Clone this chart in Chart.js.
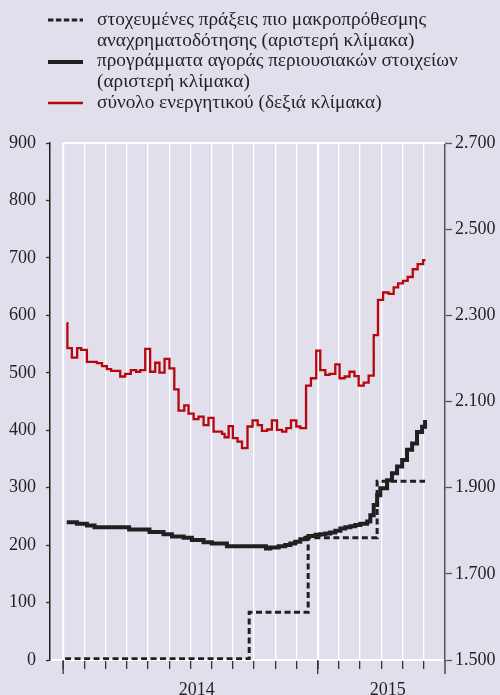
<!DOCTYPE html>
<html>
<head>
<meta charset="utf-8">
<script src="https://cdn.jsdelivr.net/npm/chart.js@4.4.0/dist/chart.umd.min.js"></script>
<style>
  html, body { margin:0; padding:0; background:#e2dfec; }
  #wrap { position:relative; width:500px; height:695px; }
  #legend { position:absolute; left:0; top:0; width:500px; height:120px; }
  #legendText {
    position:absolute; left:97px; top:9px;
    font-family:"Liberation Serif", serif; font-size:19.3px; line-height:20.7px; color:#231f20;
    white-space:nowrap;
  }
  #chart { position:absolute; left:0; top:0; }
</style>
</head>
<body>
<div id="wrap">
  <canvas id="chart" width="500" height="695"></canvas>
  <svg id="legend" width="500" height="120">
    <line x1="48" y1="20" x2="83" y2="20" stroke="#231f20" stroke-width="3" stroke-dasharray="5.5,2.4"/>
    <line x1="48" y1="62" x2="83" y2="62" stroke="#231f20" stroke-width="4"/>
    <line x1="48" y1="103" x2="83" y2="103" stroke="#b5070d" stroke-width="2.5"/>
  </svg>
  <div id="legendText">
    στοχευμένες πράξεις πιο μακροπρόθεσμης<br>
    αναχρηματοδότησης (αριστερή κλίμακα)<br>
    προγράμματα αγοράς περιουσιακών στοιχείων<br>
    (αριστερή κλίμακα)<br>
    σύνολο ενεργητικού (δεξιά κλίμακα)
  </div>
</div>
<script>
// x values are months counted from 1 January 2014 (0 = Jan 2014, 12 = Jan 2015)
const tltroX = [0.09, 8.77, 11.55, 14.8, 17.06];
const tltroY = [2, 83, 213, 311, 311];

const appX = [0.17, 0.65, 1.12, 1.48, 3.11, 4.07, 4.73, 5.13, 5.68, 6.07, 6.62, 7.01, 7.72,
  9.56, 9.76, 10.16, 10.47, 10.71, 10.94, 11.18, 11.42, 11.56, 11.89, 12.12, 12.36, 12.59,
  12.83, 13.07, 13.3, 13.54, 13.77, 14.01, 14.33, 14.48, 14.64, 14.8, 14.95, 15.27, 15.5,
  15.74, 15.98, 16.21, 16.45, 16.68, 16.92, 17.06];
const appY = [240, 237, 234, 231, 227, 223, 219, 215, 213, 209, 205, 203, 198,
  194, 196, 198, 200, 203, 206, 210, 213, 216, 218, 219, 220, 222,
  225, 229, 231, 233, 235, 237, 241, 252, 270, 287, 299, 313, 325,
  337, 348, 366, 377, 397, 406, 418];

const assetsX = [0.17, 0.2, 0.41, 0.66, 0.85, 1.12, 1.59, 1.83, 2.06, 2.26, 2.69, 2.92, 3.19,
  3.44, 3.63, 3.87, 4.1, 4.34, 4.54, 4.78, 5.01, 5.24, 5.44, 5.71, 5.91, 6.15, 6.38, 6.62,
  6.85, 7.09, 7.49, 7.61, 7.8, 8.0, 8.22, 8.43, 8.69, 8.93, 9.17, 9.37, 9.61, 9.84, 10.08,
  10.32, 10.52, 10.74, 10.99, 11.18, 11.45, 11.68, 11.93, 12.12, 12.36, 12.56, 12.83, 13.03,
  13.27, 13.5, 13.73, 13.93, 14.17, 14.4, 14.64, 14.84, 15.08, 15.34, 15.58, 15.79, 16.02,
  16.24, 16.48, 16.71, 16.97, 17.08];
const assetsY = [2282, 2224, 2202, 2224, 2220, 2192, 2189, 2182, 2175, 2171, 2158, 2164, 2173,
  2169, 2173, 2222, 2169, 2190, 2167, 2199, 2177, 2128, 2079, 2091, 2072, 2059, 2065, 2045,
  2062, 2030, 2025, 2017, 2043, 2015, 2007, 1992, 2042, 2056, 2045, 2032, 2035, 2056, 2034,
  2030, 2038, 2056, 2042, 2038, 2137, 2154, 2218, 2173, 2162, 2164, 2186, 2154,
  2158, 2169, 2159, 2137, 2144, 2160, 2254, 2336, 2353, 2350, 2365, 2374, 2380,
  2389, 2407, 2419, 2428, 2428];

const monthTicks = [0, 1, 2, 3, 4, 5, 6, 7, 8, 9, 10, 11, 12, 13, 14, 15, 16, 17];
const yearLabels = ['2014', '2015'];
const yearLabelPos = [6.3, 15.3];
const xMin = -0.62, xMax = 18;

const toPoints = (xs, ys) => xs.map((x, i) => ({ x, y: ys[i] }));
const fmtThousands = v => (v / 1000).toFixed(3);

Chart.defaults.font.family = '"Liberation Serif", serif';
Chart.defaults.font.size = 18;
Chart.defaults.color = '#231f20';

const frame = {
  id: 'frame',
  afterDraw(chart) {
    const { ctx, chartArea, scales } = chart;
    const x0 = scales.x.getPixelForValue(0);
    ctx.save();
    ctx.strokeStyle = '#ffffff';
    ctx.lineWidth = 2;
    ctx.beginPath();
    ctx.moveTo(x0, chartArea.top);
    ctx.lineTo(chartArea.right, chartArea.top);
    ctx.stroke();
    // longer ticks at the year boundaries
    ctx.strokeStyle = '#333';
    ctx.lineWidth = 1.3;
    [0, 12].forEach(v => {
      const px = scales.x.getPixelForValue(v);
      ctx.beginPath();
      ctx.moveTo(px, chartArea.bottom);
      ctx.lineTo(px, chartArea.bottom + 14);
      ctx.stroke();
    });
    ctx.beginPath();
    ctx.moveTo(chartArea.right, chartArea.bottom);
    ctx.lineTo(chartArea.right, chartArea.bottom + 14);
    ctx.stroke();
    ctx.restore();
  }
};

new Chart(document.getElementById('chart'), {
  type: 'line',
  data: {
    datasets: [
      {
        label: 'στοχευμένες πράξεις πιο μακροπρόθεσμης αναχρηματοδότησης',
        data: toPoints(tltroX, tltroY),
        yAxisID: 'y',
        borderColor: '#231f20',
        borderWidth: 3,
        borderDash: [6, 3.5],
        stepped: true,
        pointRadius: 0,
        fill: false
      },
      {
        label: 'προγράμματα αγοράς περιουσιακών στοιχείων',
        data: toPoints(appX, appY),
        yAxisID: 'y',
        borderColor: '#231f20',
        borderWidth: 4,
        stepped: true,
        pointRadius: 0,
        fill: false
      },
      {
        label: 'σύνολο ενεργητικού',
        data: toPoints(assetsX, assetsY),
        yAxisID: 'y2',
        borderColor: '#b5070d',
        borderWidth: 2.3,
        stepped: true,
        pointRadius: 0,
        fill: false
      }
    ]
  },
  options: {
    responsive: false,
    animation: false,
    layout: { padding: { top: 143, left: 0, right: 0, bottom: 0 } },
    plugins: { legend: { display: false }, tooltip: { enabled: false } },
    scales: {
      x: {
        type: 'linear',
        position: 'bottom',
        min: xMin,
        max: xMax,
        afterBuildTicks: s => { s.ticks = monthTicks.map(v => ({ value: v })); },
        afterFit: s => { s.height = 9; },
        ticks: { display: false },
        grid: {
          color: '#ffffff',
          lineWidth: c => (c.tick && c.tick.value % 12 === 0 ? 2.2 : 1.3),
          drawTicks: true,
          tickLength: 9,
          tickColor: '#333',
          tickWidth: 1.3
        },
        border: { display: true, color: '#ffffff', width: 2 }
      },
      xYear: {
        type: 'linear',
        position: 'bottom',
        min: xMin,
        max: xMax,
        afterBuildTicks: s => { s.ticks = yearLabelPos.map(v => ({ value: v })); },
        afterFit: s => { s.height = 26; },
        ticks: {
          autoSkip: false,
          maxRotation: 0,
          padding: 10,
          callback: (v, i) => yearLabels[i]
        },
        grid: { display: false, drawTicks: false },
        border: { display: false }
      },
      y: {
        position: 'left',
        min: 0,
        max: 900,
        afterFit: s => { s.width = 50; },
        ticks: { stepSize: 100, padding: 2 },
        grid: {
          drawOnChartArea: false,
          tickLength: 12,
          tickColor: '#333',
          tickWidth: 1.3,
          tickBorderDash: [4, 8],
          tickBorderDashOffset: 4
        },
        border: { color: '#231f20', width: 1.5 }
      },
      y2: {
        position: 'right',
        min: 1500,
        max: 2700,
        afterFit: s => { s.width = 55; },
        ticks: { stepSize: 200, padding: 3, callback: v => fmtThousands(v) },
        grid: { drawOnChartArea: false, tickLength: 7, tickColor: '#555', tickWidth: 1.3 },
        border: { color: '#555', width: 1.5 }
      }
    }
  },
  plugins: [frame]
});
</script>
</body>
</html>
